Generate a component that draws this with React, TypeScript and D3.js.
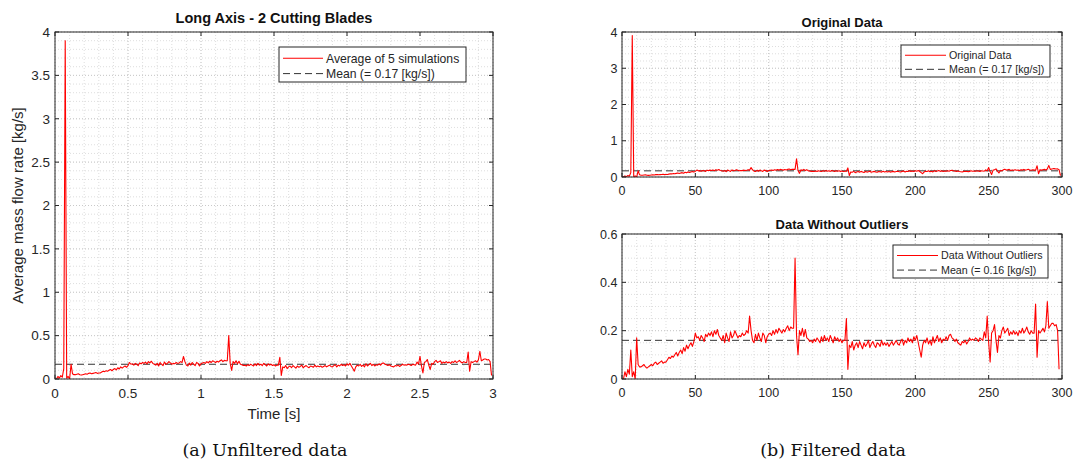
import React from "react";
import * as d3 from "d3";

// ---------- DATA ----------
// Averaged mass flow rate [kg/s], one sample per step (0.01 s), outliers removed
const filteredValues: number[] = [
  0.0, 0.0, 0.03, 0.01, 0.04, 0.02, 0.12, 0.01, 0.03, 0.0,
  0.17, 0.06, 0.05, 0.05, 0.055, 0.06, 0.05, 0.045, 0.05, 0.055,
  0.06, 0.055, 0.065, 0.07, 0.06, 0.065, 0.07, 0.075, 0.065, 0.07,
  0.07, 0.08, 0.09, 0.085, 0.095, 0.09, 0.1, 0.11, 0.095, 0.11,
  0.12, 0.105, 0.13, 0.115, 0.14, 0.125, 0.14, 0.15, 0.135, 0.155,
  0.19, 0.17, 0.175, 0.16, 0.18, 0.17, 0.155, 0.185, 0.175, 0.19,
  0.18, 0.195, 0.175, 0.2, 0.185, 0.205, 0.18, 0.17, 0.16, 0.18,
  0.15, 0.19, 0.17, 0.155, 0.195, 0.17, 0.18, 0.2, 0.185, 0.17,
  0.18, 0.175, 0.19, 0.18, 0.185, 0.2, 0.19, 0.26, 0.2, 0.16,
  0.15, 0.185, 0.16, 0.19, 0.17, 0.155, 0.19, 0.18, 0.15, 0.175,
  0.185, 0.19, 0.18, 0.2, 0.185, 0.205, 0.19, 0.21, 0.2, 0.19,
  0.205, 0.195, 0.21, 0.22, 0.2, 0.215, 0.21, 0.21, 0.5, 0.18,
  0.1, 0.2, 0.18, 0.21, 0.175, 0.205, 0.17, 0.165, 0.155, 0.16,
  0.15, 0.165, 0.155, 0.17, 0.16, 0.15, 0.175, 0.155, 0.18, 0.16,
  0.17, 0.155, 0.18, 0.165, 0.15, 0.175, 0.16, 0.17, 0.155, 0.165,
  0.15, 0.16, 0.16, 0.25, 0.04, 0.14, 0.13, 0.155, 0.12, 0.14,
  0.15, 0.13, 0.155, 0.14, 0.125, 0.15, 0.135, 0.145, 0.16, 0.13,
  0.145, 0.155, 0.14, 0.13, 0.15, 0.145, 0.135, 0.16, 0.14, 0.15,
  0.14, 0.15, 0.135, 0.145, 0.155, 0.14, 0.15, 0.16, 0.145, 0.14,
  0.155, 0.165, 0.14, 0.16, 0.15, 0.17, 0.155, 0.165, 0.15, 0.175,
  0.16, 0.18, 0.15, 0.12, 0.09, 0.14, 0.16, 0.15, 0.17, 0.145,
  0.16, 0.14, 0.175, 0.15, 0.165, 0.18, 0.155, 0.17, 0.15, 0.165,
  0.16, 0.175, 0.16, 0.18, 0.185, 0.17, 0.165, 0.155, 0.165, 0.15,
  0.145, 0.14, 0.155, 0.15, 0.16, 0.145, 0.155, 0.17, 0.16, 0.165,
  0.16, 0.17, 0.165, 0.155, 0.17, 0.165, 0.16, 0.195, 0.17, 0.26,
  0.15, 0.07, 0.19, 0.2, 0.225, 0.16, 0.11, 0.18, 0.17, 0.2,
  0.215, 0.19, 0.2, 0.21, 0.18, 0.195, 0.185, 0.2, 0.185, 0.195,
  0.18, 0.2, 0.19, 0.21, 0.19, 0.2, 0.215, 0.195, 0.185, 0.2,
  0.19, 0.19, 0.31, 0.09, 0.2, 0.19, 0.2, 0.21, 0.195, 0.22,
  0.32, 0.21, 0.22, 0.23, 0.23, 0.22, 0.225, 0.2, 0.04,
];
// Outlier samples present in the unfiltered data: [sample index, value]
const outliers: [number, number][] = [[7, 3.9]];
const meanOriginal = 0.17;
const meanFiltered = 0.16;
const sampleStep = 0.01; // seconds per sample

const timeTicks = [0, 0.5, 1, 1.5, 2, 2.5, 3];
const rateTicksA = [0, 0.5, 1, 1.5, 2, 2.5, 3, 3.5, 4];
const indexTicks = [0, 50, 100, 150, 200, 250, 300];
const rateTicksB = [0, 1, 2, 3, 4];
const rateTicksC = [0, 0.2, 0.4, 0.6];

// Build the unfiltered series by re-inserting the outliers
const originalValues: number[] = (() => {
  const arr = filteredValues.slice();
  outliers.forEach(([i, v]) => arr.splice(i, 0, v));
  return arr;
})();

type Pt = { x: number; y: number };

interface PanelProps {
  left: number; right: number; top: number; bottom: number;
  xDomain: [number, number]; yDomain: [number, number];
  xTicks: number[]; yTicks: number[];
  xMinor: number; yMinor: number;
  data: Pt[]; mean: number;
  title: string; titleSize: number; titleGap: number;
  tickSize: number; tickGap: number; yTickGap: number;
  legend: { x: number; y: number; w: number; h: number; label1: string; label2: string; fs: number; lineLen: number };
  xLabel?: string; yLabel?: string;
}

const AX = "#262626";
const FONT = "'Liberation Sans', Arial, Helvetica, sans-serif";

function Panel(p: PanelProps) {
  const x = d3.scaleLinear().domain(p.xDomain).range([p.left, p.right]);
  const y = d3.scaleLinear().domain(p.yDomain).range([p.bottom, p.top]);
  const minorX = d3.range(p.xDomain[0], p.xDomain[1] + 1e-9, p.xMinor);
  const minorY = d3.range(p.yDomain[0], p.yDomain[1] + 1e-9, p.yMinor);
  const line = d3.line<Pt>().x((d) => x(d.x)).y((d) => y(d.y));
  const clipId = `clip-${p.left}-${p.top}`;
  const fmt = (v: number) => String(+v.toFixed(2));
  const tl = 4;
  const L = p.legend;
  return (
    <g>
      <defs>
        <clipPath id={clipId}>
          <rect x={p.left} y={p.top} width={p.right - p.left} height={p.bottom - p.top} />
        </clipPath>
      </defs>
      <rect x={p.left} y={p.top} width={p.right - p.left} height={p.bottom - p.top} fill="#fff" />
      {minorX.map((v, i) => (
        <line key={"mx" + i} x1={x(v)} x2={x(v)} y1={p.top} y2={p.bottom} stroke="#d0d0d0" strokeWidth={0.7} strokeDasharray="1,2" />
      ))}
      {minorY.map((v, i) => (
        <line key={"my" + i} y1={y(v)} y2={y(v)} x1={p.left} x2={p.right} stroke="#d0d0d0" strokeWidth={0.7} strokeDasharray="1,2" />
      ))}
      {p.xTicks.map((v, i) => (
        <line key={"gx" + i} x1={x(v)} x2={x(v)} y1={p.top} y2={p.bottom} stroke="#c4c4c4" strokeWidth={0.8} strokeDasharray="1,2" />
      ))}
      {p.yTicks.map((v, i) => (
        <line key={"gy" + i} y1={y(v)} y2={y(v)} x1={p.left} x2={p.right} stroke="#c4c4c4" strokeWidth={0.8} strokeDasharray="1,2" />
      ))}
      <g clipPath={`url(#${clipId})`}>
        <line x1={p.left} x2={p.right} y1={y(p.mean)} y2={y(p.mean)} stroke="#333" strokeWidth={1} strokeDasharray="7,4" />
        <path d={line(p.data) || ""} fill="none" stroke="#ff0000" strokeWidth={1.1} strokeLinejoin="round" />
      </g>
      {/* ticks */}
      {p.xTicks.map((v, i) => (
        <g key={"tx" + i}>
          <line x1={x(v)} x2={x(v)} y1={p.bottom} y2={p.bottom - tl} stroke={AX} />
          <line x1={x(v)} x2={x(v)} y1={p.top} y2={p.top + tl} stroke={AX} />
          <text x={x(v)} y={p.bottom + p.tickGap} textAnchor="middle" fontSize={p.tickSize} fill={AX} fontFamily={FONT}>{fmt(v)}</text>
        </g>
      ))}
      {p.yTicks.map((v, i) => (
        <g key={"ty" + i}>
          <line x1={p.left} x2={p.left + tl} y1={y(v)} y2={y(v)} stroke={AX} />
          <line x1={p.right} x2={p.right - tl} y1={y(v)} y2={y(v)} stroke={AX} />
          <text x={p.left - p.yTickGap} y={y(v) + p.tickSize * 0.36} textAnchor="end" fontSize={p.tickSize} fill={AX} fontFamily={FONT}>{fmt(v)}</text>
        </g>
      ))}
      <rect x={p.left} y={p.top} width={p.right - p.left} height={p.bottom - p.top} fill="none" stroke={AX} strokeWidth={1} />
      <text x={(p.left + p.right) / 2} y={p.top - p.titleGap} textAnchor="middle" fontSize={p.titleSize} fontWeight="bold" fill="#111" fontFamily={FONT}>{p.title}</text>
      {p.xLabel && (
        <text x={(p.left + p.right) / 2} y={p.bottom + 39.5} textAnchor="middle" fontSize={15} fill={AX} fontFamily={FONT}>{p.xLabel}</text>
      )}
      {p.yLabel && (
        <text transform={`translate(${p.left - 32},${(p.top + p.bottom) / 2}) rotate(-90)`} textAnchor="middle" fontSize={15} fill={AX} fontFamily={FONT}>{p.yLabel}</text>
      )}
      {/* legend */}
      <rect x={L.x} y={L.y} width={L.w} height={L.h} fill="#fff" stroke={AX} strokeWidth={1} />
      <line x1={L.x + 4} x2={L.x + 4 + L.lineLen} y1={L.y + L.h * 0.32} y2={L.y + L.h * 0.32} stroke="#ff0000" strokeWidth={1.1} />
      <text x={L.x + 7 + L.lineLen} y={L.y + L.h * 0.32 + L.fs * 0.36} fontSize={L.fs} fill={AX} fontFamily={FONT}>{L.label1}</text>
      <line x1={L.x + 4} x2={L.x + 4 + L.lineLen} y1={L.y + L.h * 0.76} y2={L.y + L.h * 0.76} stroke="#333" strokeWidth={1} strokeDasharray="7,4" />
      <text x={L.x + 7 + L.lineLen} y={L.y + L.h * 0.76 + L.fs * 0.36} fontSize={L.fs} fill={AX} fontFamily={FONT}>{L.label2}</text>
    </g>
  );
}

export default function App() {
  const dataA: Pt[] = originalValues.map((v, i) => ({ x: i * sampleStep, y: v }));
  const dataB: Pt[] = originalValues.map((v, i) => ({ x: i, y: v }));
  const dataC: Pt[] = filteredValues.map((v, i) => ({ x: i, y: v }));
  const serif = "'DejaVu Serif', 'Liberation Serif', serif";
  return (
    <svg width={1073} height={459} style={{ position: "absolute", left: 0, top: 0, background: "#fff" }}>
      <rect width={1073} height={459} fill="#fff" />
      <Panel
        left={55} right={493} top={32} bottom={379}
        xDomain={[0, 3]} yDomain={[0, 4]}
        xTicks={timeTicks} yTicks={rateTicksA}
        xMinor={0.1} yMinor={0.1}
        data={dataA} mean={meanOriginal}
        title="Long Axis - 2 Cutting Blades" titleSize={14.5} titleGap={9}
        tickSize={13.5} tickGap={19} yTickGap={5}
        legend={{ x: 279, y: 47, w: 187, h: 35, label1: "Average of 5 simulations", label2: "Mean (= 0.17 [kg/s])", fs: 12.2, lineLen: 40 }}
        xLabel="Time [s]" yLabel="Average mass flow rate [kg/s]"
      />
      <Panel
        left={622} right={1062} top={32} bottom={177}
        xDomain={[0, 300]} yDomain={[0, 4]}
        xTicks={indexTicks} yTicks={rateTicksB}
        xMinor={10} yMinor={0.2}
        data={dataB} mean={meanOriginal}
        title="Original Data" titleSize={13} titleGap={5.5}
        tickSize={12.5} tickGap={17.5} yTickGap={4.5}
        legend={{ x: 901, y: 45, w: 149, h: 32, label1: "Original Data", label2: "Mean (= 0.17 [kg/s])", fs: 10.7, lineLen: 41 }}
      />
      <Panel
        left={622} right={1062} top={234} bottom={379}
        xDomain={[0, 300]} yDomain={[0, 0.6]}
        xTicks={indexTicks} yTicks={rateTicksC}
        xMinor={10} yMinor={0.05}
        data={dataC} mean={meanFiltered}
        title="Data Without Outliers" titleSize={13} titleGap={5.5}
        tickSize={12.5} tickGap={17.5} yTickGap={4.5}
        legend={{ x: 893, y: 245, w: 155, h: 33, label1: "Data Without Outliers", label2: "Mean (= 0.16 [kg/s])", fs: 10.7, lineLen: 41 }}
      />
      <text x={265} y={456} textAnchor="middle" fontSize={17.5} fill="#111" fontFamily={serif}>(a) Unfiltered data</text>
      <text x={833} y={456} textAnchor="middle" fontSize={17.5} fill="#111" fontFamily={serif}>(b) Filtered data</text>
    </svg>
  );
}
